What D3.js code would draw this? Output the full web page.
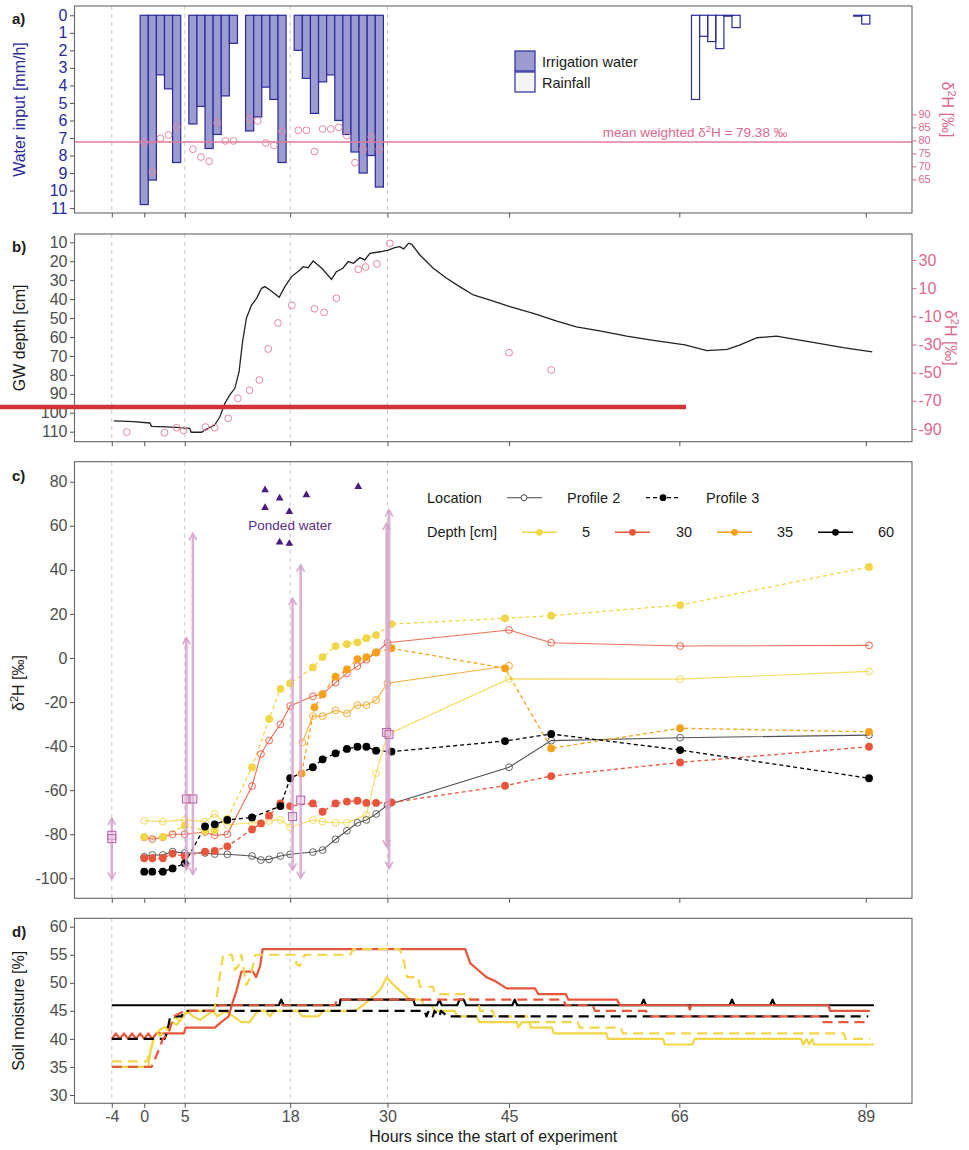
<!DOCTYPE html>
<html>
<head>
<meta charset="utf-8">
<script src="https://cdn.jsdelivr.net/npm/d3@7"></script>
<style>
  body { margin: 0; background: #fff; }
  svg { display: block; }
</style>
</head>
<body>
<svg id="chart" width="969" height="1150"></svg>
<script>
// ---------------- shared axis values ----------------
const hourTicks = [-4, 0, 5, 18, 30, 45, 66, 89];
const eventHours = [-4, 5, 18, 30];

// ---------------- a) water input ----------------
const irrigationHours = [0,1,2,3,4,6,7,8,9,10,11,13,14,15,16,17,19,20,21,22,23,24,25,26,27,28,29];
const irrigationRate  = [10.8,9.4,3.4,4.2,8.4,6.2,5.2,7.6,6.8,4.6,1.6,6.6,5.8,4.1,4.8,8.4,2.0,3.6,5.6,3.8,3.4,6.0,6.8,7.8,9.0,8.0,9.8];
const irrigationD2H   = [79.1,68.0,80.8,82.1,85.0,76.6,73.6,72.0,86.8,79.8,79.8,88.1,87.5,79.0,78.1,83.5,83.9,83.9,75.7,84.4,84.4,85.0,81.8,71.4,76.6,81.4,76.6];
const rainHours = [68,69,70,71,72,73,88,89];
const rainRate  = [4.8,1.2,1.5,1.9,0.05,0.7,0.05,0.5];
const meanWeightedD2H = 79.38;
const waterTicks = [0,1,2,3,4,5,6,7,8,9,10,11];
const waterD2HTicks = [65,70,75,80,85,90];

// ---------------- b) groundwater ----------------
const gwLevel = [
  [-3.75,104.3],[-1.37,104.7],[0.69,105.4],[0.9,107.2],[2.75,107.5],[4.4,107.9],[5.6,108.2],[5.8,110.3],
  [7.07,110.3],[7.7,108.6],[8.7,106.5],[9.33,102.1],[9.95,95.0],[10.56,90.6],[11.18,87.1],[11.7,78.3],
  [12.13,62.5],[12.6,50.1],[13.24,43.1],[13.86,39.6],[14.47,34.3],[14.88,33.4],[15.5,35.2],[16.65,39.0],
  [17.35,33.4],[18.18,28.1],[19.2,24.6],[19.6,22.9],[20.2,23.4],[20.84,19.9],[21.9,23.7],[23.1,29.6],
  [23.7,25.5],[24.5,23.7],[25.16,20.2],[25.8,21.1],[26.6,18.1],[27.2,19.3],[27.84,15.8],[29.1,15.0],
  [30.1,14.1],[30.9,12.8],[31.5,12.3],[32.0,13.5],[32.6,10.5],[33.0,11.1],[34.0,16.7],[35.65,23.7],
  [37.3,29.0],[38.9,33.4],[40.6,37.8],[43.05,41.0],[45.1,44.0],[48.0,47.5],[50.9,51.6],[53.3,54.6],
  [56.2,56.8],[59.5,59.5],[62.8,61.8],[66.7,64.2],[69.4,67.2],[71.9,66.5],[73.5,64.2],[75.6,60.4],
  [78.0,59.5],[80.1,61.1],[82.5,62.8],[86.2,65.6],[89.8,67.9]
];
const gwSampleHours = [-2.15,2.5,4.0,4.85,7.56,8.7,10.36,11.55,12.99,14.2,15.3,16.5,18.2,21.0,22.2,23.7,26.4,27.3,28.7,30.3,45.0,50.2];
const gwSampleD2H   = [-92.2,-92.6,-89.1,-91.0,-88.6,-89.1,-82.4,-68.2,-62.5,-55.2,-33.2,-14.7,-2.2,-4.6,-7.2,2.8,23.4,25.0,27.2,41.8,-35.8,-48.1];
const depthTicks = [10,20,30,40,50,60,70,80,90,100,110];
const gwD2HTicks = [30,10,-10,-30,-50,-70,-90];

// ---------------- c) soil water isotopes ----------------
const p2Depth5 = [[0,-73.9],[2.3,-74.3],[5,-73.5],[7.5,-74.3],[8.7,-70.8],[10.25,-75.8],[13.3,-74.8],[15.4,-74],[16.8,-73.5],[18,-76.9],[20.8,-73.5],[22,-74.3],[23.6,-74.8],[25,-74.8],[27.4,-71.3],[28.6,-52.3],[30,-34.7],[45,-9.5],[66.1,-9.6],[89.4,-6.1]];
const p3Depth5 = [[0,-81.2],[2.3,-81.2],[5,-76],[7.5,-78.5],[8.7,-78.1],[10.25,-73],[13.3,-49.6],[15.4,-27.7],[16.8,-14],[18,-11.5],[20.8,-4.3],[22,0.4],[23.6,5.4],[25,6.3],[26.3,7.1],[27.4,9],[28.6,10.4],[30.5,15.4],[44.5,18],[50.2,19.2],[66.1,24],[89.4,41.3]];
const p2Depth30 = [[0,-81.4],[1,-82.2],[2.3,-81.4],[3.5,-80],[5,-80],[7.5,-79],[8.7,-80.5],[10.25,-80],[13.3,-58.1],[14.4,-43.6],[15.4,-37.5],[16.8,-30.1],[18,-21.8],[20.8,-17.4],[22,-16.4],[23.6,-11.2],[25,-7],[26.3,-3.7],[27.4,-0.8],[28.6,2.5],[30,6.9],[45,12.7],[50.2,6.9],[66.1,5.4],[89.4,5.7]];
const p3Depth30 = [[0,-90.9],[1,-90.9],[2.3,-90.9],[3.5,-88.8],[5,-90],[7.5,-87.9],[8.7,-87.6],[10.25,-85.5],[13.3,-77.8],[14.4,-75.1],[15.4,-71.6],[16.8,-66],[18,-67.2],[20.8,-66],[22,-69.8],[23.6,-66],[25,-65.2],[26.3,-64.8],[27.4,-65.8],[28.6,-65.8],[30.5,-65.6],[44.5,-58],[50.2,-53.6],[66.1,-47.4],[89.4,-40.3]];
const p2Depth35 = [[19.5,-38.3],[20.8,-26.4],[22,-26.4],[23.6,-23.8],[25,-25.2],[26.3,-21.4],[27.4,-21.4],[28.6,-19.1],[30,-11.5],[45,-3.5]];
const p3Depth35 = [[19.4,-52.4],[21,-22.4],[22,-16.5],[23.6,-8.5],[25,-5.2],[26.3,-0.5],[27.4,0.4],[28.6,2.5],[30.5,4.4],[44.5,-4.7],[50.2,-41],[66.1,-31.9],[89.4,-33.5]];
const p2Depth60 = [[0,-90.2],[1,-89.4],[2.3,-89.4],[3.5,-87.9],[5,-88.5],[7.5,-88.5],[8.7,-89],[10.25,-89.1],[13.3,-89.9],[14.4,-91.7],[15.4,-91.4],[16.8,-89.9],[18,-89.1],[20.8,-88.1],[22,-87.2],[23.6,-82.3],[25,-78.4],[26.3,-74.8],[27.4,-73.5],[28.6,-70.8],[30,-66.7],[45,-49.6],[50.2,-37.5],[66.1,-36.2],[89.4,-35]];
const p3Depth60 = [[0,-97],[1,-97],[2.3,-97],[3.5,-95.5],[5,-93.2],[7.5,-76.5],[8.7,-75.5],[10.25,-73.5],[13.3,-72.4],[16.8,-67.2],[18,-54.6],[20.8,-49.6],[22,-46],[23.6,-43.3],[25,-41.3],[26.3,-40.3],[27.4,-40.3],[28.6,-42.1],[30.5,-42.5],[44.5,-37.7],[50.2,-34.5],[66.1,-41.8],[89.4,-54.6]];

// input water samples: range (arrows) and mean (squares)
const inputRangeHours = [-4, 5.2, 6.0, 18.3, 19.3, 29.9, 30.2];
const inputRangeMin   = [-100.3, -96, -98.2, -96.2, -100, -85.7, -95.5];
const inputRangeMax   = [-72.8, 9.2, 56.5, 27, 42.2, 61.1, 67.1];
const inputMeanHours  = [-4, -4, 5.2, 6.0, 18.3, 19.3, 29.9, 30.2];
const inputMeanD2H    = [-80.5, -82, -64, -64, -72, -64.5, -33.8, -34.7];

const pondedHours = [14.9, 16.7, 20.0, 14.9, 17.9, 16.7, 17.9, 26.4];
const pondedD2H   = [76.2, 72.5, 74.0, 68.2, 66.4, 52.5, 51.9, 77.7];
const isoTicks = [80,60,40,20,0,-20,-40,-60,-80,-100];

// ---------------- d) soil moisture ----------------
const smP2Depth60 = [[-4,46],[16.6,46],[16.9,47],[17.2,46],[24.1,46],[24.2,47],[33.2,47],[33.4,46],[36.1,46],[36.4,47],[36.7,46],[38.6,46],[38.9,47],[39.4,47],[39.7,46],[45.4,46],[45.7,47],[46,46],[61.3,46],[61.6,47],[61.9,46],[72.2,46],[72.5,47],[72.8,46],[77.2,46],[77.5,47],[77.8,46],[90,46]];
const smP3Depth60 = [[-4,40],[2.5,40],[2.8,41],[3.2,44],[4.6,44],[4.9,45],[34.6,45],[34.8,44],[35.1,45],[35.6,44],[35.8,45],[36.4,44],[36.6,45],[37.4,44],[89.3,44]];
const smP2Depth30 = [[-4,40],[-3.5,41],[-3,40],[-2.5,41],[-2,40],[-1.5,41],[-1,40],[-0.5,41],[0,40],[0.5,41],[1,40],[1.5,41],[4.9,41],[5.1,42],[8.7,42],[9.5,43],[10.4,44],[10.8,46],[11.4,48.7],[12,52],[13.4,52],[13.8,51],[14.3,53],[14.6,56],[39.6,56],[40.2,53.5],[41,52.5],[42.2,51],[43.3,50.3],[44.7,49],[48.2,49],[48.6,48],[52,48],[52.3,47],[58.3,47],[58.7,46],[67.1,46],[67.3,45.2],[67.5,46],[84.4,46],[84.6,45],[89.5,45]];
const smP3Depth30 = [[-4,35],[0.9,35],[1.5,37],[2.3,40],[3,41],[3.6,44],[5,45],[8.9,45],[9.2,46],[23.5,46],[23.8,47],[51.7,47],[52,46],[55.3,46],[55.6,45],[61.9,45],[62.2,44],[83.2,44],[83.5,43],[89.5,43]];
const smP2Depth5 = [[-4,35],[0.5,35],[0.8,38],[1.2,40.4],[1.9,41.6],[2.5,42.1],[3,42],[3.5,43],[4,42.5],[4.8,44],[5.3,45],[6,44],[6.9,43.4],[7.5,44],[8.5,45],[9,44],[10,45],[11,44],[12,43],[13,43],[13.5,44],[14,45],[15,45],[15.5,44],[16,45],[19,45],[19.5,44],[21.5,44],[22,45],[26,45],[27,46],[27.8,47],[28.6,48],[29.2,49],[29.9,51],[30.5,50],[31.2,49],[32,48],[32.8,47],[34.2,47],[34.5,46],[35.5,46],[35.8,45],[38.3,45],[38.6,44],[41,44],[41.3,43],[46,43],[46.1,42],[46.6,43],[47.5,43],[47.7,42],[50.3,42],[50.5,41],[57,41],[57.2,40],[64,40],[64.2,39],[67.6,39],[67.9,40],[81,40],[81.3,39],[81.7,40],[82,39],[82.4,40],[82.6,39],[90,39]];
const smP3Depth5 = [[-4,36],[0.3,36],[0.8,38],[1.2,40],[1.6,41],[2,40.5],[2.5,42],[3,41.5],[3.8,44],[4.5,43],[5,44.5],[6,45],[8.6,45],[8.9,47],[9.4,52],[9.75,55],[10.8,55],[11.2,52.3],[11.6,53],[12.0,55],[12.3,52],[12.6,49.6],[13.1,51],[13.7,55],[18.6,55],[18.8,53.3],[19.2,53],[19.8,55],[25.4,55],[25.8,56],[31.5,56],[32,54],[32.4,51],[33.8,51],[34,49.3],[35.6,49.3],[35.9,48],[39.8,48],[40.2,47],[41.2,47],[41.4,45],[43,45],[43.2,44],[47.3,44],[47.5,43],[53.5,43],[53.7,42],[58.8,42],[59,41],[86.3,41],[86.5,40],[89.5,40]];
const moistureTicks = [30,35,40,45,50,55,60];

// ---------------- styling ----------------
const FONT = "'Liberation Sans', Arial, Helvetica, sans-serif";
const AXIS_GREY = "#4d4d4d";
const FRAME = "#666666";
const NAVY = "#2a2a9c";
const IRR_FILL = "#9c9cd0";
const PINK_TEXT = "#dc6890";
const PINK_LINE = "#e27a97";
const PINK_DOT = "#e6879f";
const COL = { 5: "#f3d648", 30: "#e8553b", 35: "#f9a11b", 60: "#000000" };

const svg = d3.select("#chart").attr("font-family", FONT);

const x = d3.scaleLinear().domain([-8.6, 94.7]).range([74.5, 912]);
const P = {
  a: { top: 6, bottom: 213 },
  b: { top: 234, bottom: 441.7 },
  c: { top: 461.7, bottom: 898.3 },
  d: { top: 918.3, bottom: 1103.3 }
};
const yA  = d3.scaleLinear().domain([-0.53, 11.28]).range([P.a.top, P.a.bottom]);
const yAr = d3.scaleLinear().domain([52.07, 131.69]).range([P.a.bottom, P.a.top]);
const yB  = d3.scaleLinear().domain([5.62, 115.28]).range([P.b.top, P.b.bottom]);
const yBr = d3.scaleLinear().domain([-99.02, 48.47]).range([P.b.bottom, P.b.top]);
const yC  = d3.scaleLinear().domain([-109.08, 89.08]).range([P.c.bottom, P.c.top]);
const yD  = d3.scaleLinear().domain([28.52, 61.5]).range([P.d.bottom, P.d.top]);

const defs = svg.append("defs");
Object.entries(P).forEach(([k, p]) => {
  defs.append("clipPath").attr("id", "clip-" + k)
    .append("rect").attr("x", x.range()[0]).attr("y", p.top)
    .attr("width", x.range()[1] - x.range()[0]).attr("height", p.bottom - p.top);
});

function panelBase(key) {
  const p = P[key];
  svg.append("g").selectAll("line").data(eventHours).join("line")
    .attr("x1", d => x(d)).attr("x2", d => x(d))
    .attr("y1", p.top).attr("y2", p.bottom)
    .attr("stroke", "#c8c8c8").attr("stroke-width", 1).attr("stroke-dasharray", "4,4");
  return svg.append("g").attr("clip-path", `url(#clip-${key})`);
}

function panelFrame(key) {
  const p = P[key];
  svg.append("rect").attr("x", x.range()[0]).attr("y", p.top)
    .attr("width", x.range()[1] - x.range()[0]).attr("height", p.bottom - p.top)
    .attr("fill", "none").attr("stroke", FRAME).attr("stroke-width", 1.1);
}

function styleAxis(g, color, tickColor, size) {
  g.attr("font-family", FONT).attr("font-size", size || 16);
  g.select(".domain").remove();
  g.selectAll(".tick line").attr("stroke", tickColor || "#555");
  g.selectAll(".tick text").attr("fill", color);
}

function bottomAxis(key, withLabels) {
  const ax = d3.axisBottom(x).tickValues(hourTicks).tickSize(4.5).tickPadding(3)
    .tickFormat(withLabels ? (d => String(d)) : "");
  const g = svg.append("g").attr("transform", `translate(0,${P[key].bottom})`).call(ax);
  styleAxis(g, AXIS_GREY);
}

function leftAxis(scale, ticks, color, tickColor) {
  const ax = d3.axisLeft(scale).tickValues(ticks).tickSize(4.5).tickPadding(2.5).tickFormat(d => String(d));
  const g = svg.append("g").attr("transform", `translate(${x.range()[0]},0)`).call(ax);
  styleAxis(g, color, tickColor);
}

function rightAxis(scale, ticks, color, size) {
  const ax = d3.axisRight(scale).tickValues(ticks).tickSize(4.5).tickPadding(2).tickFormat(d => String(d));
  const g = svg.append("g").attr("transform", `translate(${x.range()[1]},0)`).call(ax);
  styleAxis(g, color, color, size);
}

function yTitle(xPos, yPos, parts, color, rot) {
  const t = svg.append("text")
    .attr("transform", `translate(${xPos},${yPos}) rotate(${rot})`)
    .attr("text-anchor", "middle").attr("font-size", 16).attr("fill", color);
  parts.forEach(([txt, sup]) => {
    if (sup) {
      t.append("tspan").attr("font-size", 11).attr("dy", -6).text(txt);
    } else {
      t.append("tspan").attr("dy", t.selectAll("tspan").size() ? 6 : 0).text(txt);
    }
  });
  return t;
}

function panelLetter(label, yPos) {
  svg.append("text").attr("x", 12).attr("y", yPos).attr("font-size", 15)
    .attr("font-weight", "bold").attr("fill", "#1a1a1a").text(label);
}

const d2hTitle = [["δ", false], ["2", true], ["H [‰]", false]];

// ================= panel a =================
{
  const g = panelBase("a");
  const irr = irrigationHours.map((h, i) => ({ h, v: irrigationRate[i], d: irrigationD2H[i] }));
  const rain = rainHours.map((h, i) => ({ h, v: rainRate[i] }));

  g.selectAll("rect.irr").data(irr).join("rect")
    .attr("x", d => x(d.h - 0.5)).attr("width", d => x(d.h + 0.5) - x(d.h - 0.5))
    .attr("y", yA(0)).attr("height", d => yA(d.v) - yA(0))
    .attr("fill", IRR_FILL).attr("stroke", NAVY).attr("stroke-width", 1.2);

  g.selectAll("rect.rain").data(rain).join("rect")
    .attr("x", d => x(d.h - 0.5)).attr("width", d => x(d.h + 0.5) - x(d.h - 0.5))
    .attr("y", yA(0)).attr("height", d => Math.max(0.6, yA(d.v) - yA(0)))
    .attr("fill", "none").attr("stroke", NAVY).attr("stroke-width", 1.2);

  g.append("line").attr("x1", x.range()[0]).attr("x2", x.range()[1])
    .attr("y1", yAr(meanWeightedD2H)).attr("y2", yAr(meanWeightedD2H))
    .attr("stroke", PINK_LINE).attr("stroke-width", 1.3);

  g.selectAll("circle").data(irr).join("circle")
    .attr("cx", d => x(d.h)).attr("cy", d => yAr(d.d)).attr("r", 3.4)
    .attr("fill", "none").attr("stroke", PINK_DOT).attr("stroke-width", 1);

  const lbl = svg.append("text").attr("x", 695).attr("y", yAr(meanWeightedD2H) - 5)
    .attr("text-anchor", "middle").attr("font-size", 13.5).attr("fill", PINK_TEXT);
  lbl.append("tspan").text("mean weighted δ");
  lbl.append("tspan").attr("font-size", 9.5).attr("dy", -5).text("2");
  lbl.append("tspan").attr("dy", 5).text(`H = ${meanWeightedD2H.toFixed(2)} ‰`);

  // legend
  const lg = svg.append("g").attr("font-size", 14.5).attr("fill", "#1a1a1a");
  [["Irrigation water", IRR_FILL], ["Rainfall", "#f4f4f4"]].forEach(([name, fill], i) => {
    lg.append("rect").attr("x", 515).attr("y", 51 + i * 21).attr("width", 20).attr("height", 20)
      .attr("fill", fill).attr("stroke", NAVY).attr("stroke-width", 1.2);
    lg.append("text").attr("x", 542).attr("y", 61.5 + i * 21).attr("dy", "0.35em").text(name);
  });

  panelFrame("a");
  bottomAxis("a", false);
  leftAxis(yA, waterTicks, NAVY, "#555");
  rightAxis(yAr, waterD2HTicks, PINK_TEXT, 11);
  yTitle(19, (P.a.top + P.a.bottom) / 2, [["Water input [mm/h]", false]], NAVY, -90);
  yTitle(948, (P.a.top + P.a.bottom) / 2, d2hTitle, PINK_TEXT, 90);
  panelLetter("a)", 24);
}

// ================= panel b =================
{
  const g = panelBase("b");
  g.append("path").datum(gwLevel)
    .attr("d", d3.line().x(d => x(d[0])).y(d => yB(d[1])))
    .attr("fill", "none").attr("stroke", "#222").attr("stroke-width", 1.3);

  g.selectAll("circle").data(gwSampleHours.map((h, i) => [h, gwSampleD2H[i]])).join("circle")
    .attr("cx", d => x(d[0])).attr("cy", d => yBr(d[1])).attr("r", 3.4)
    .attr("fill", "none").attr("stroke", PINK_DOT).attr("stroke-width", 1);

  panelFrame("b");
  bottomAxis("b", false);
  leftAxis(yB, depthTicks, AXIS_GREY);
  rightAxis(yBr, gwD2HTicks, PINK_TEXT);
  yTitle(19, (P.b.top + P.b.bottom) / 2, [["GW depth [cm]", false]], "#1a1a1a", -90);
  yTitle(951, (P.b.top + P.b.bottom) / 2, d2hTitle, PINK_TEXT, 90);
  panelLetter("b)", 252);

  // highlight rule
  svg.append("line").attr("x1", 0).attr("x2", 686).attr("y1", 407).attr("y2", 407)
    .attr("stroke", "#d13438").attr("stroke-width", 4.5);
}

// ================= panel c =================
{
  const g = panelBase("c");
  const line = d3.line().x(d => x(d[0])).y(d => yC(d[1]));

  const profile2 = [[p2Depth5, 5], [p2Depth30, 30], [p2Depth35, 35], [p2Depth60, 60]];
  const profile3 = [[p3Depth5, 5], [p3Depth30, 30], [p3Depth35, 35], [p3Depth60, 60]];

  profile2.forEach(([data, depth]) => {
    g.append("path").datum(data).attr("d", line).attr("fill", "none")
      .attr("stroke", depth === 60 ? "#333" : COL[depth]).attr("stroke-width", 1.1)
      .attr("stroke-opacity", 0.85);
  });
  profile3.forEach(([data, depth]) => {
    g.append("path").datum(data).attr("d", line).attr("fill", "none")
      .attr("stroke", COL[depth]).attr("stroke-width", 1.3).attr("stroke-dasharray", "4,3");
  });
  profile2.forEach(([data, depth]) => {
    g.append("g").selectAll("circle").data(data).join("circle")
      .attr("cx", d => x(d[0])).attr("cy", d => yC(d[1])).attr("r", 3.4)
      .attr("fill", "none").attr("stroke", depth === 60 ? "#555" : COL[depth])
      .attr("stroke-width", 1).attr("stroke-opacity", 0.9);
  });
  profile3.forEach(([data, depth]) => {
    g.append("g").selectAll("circle").data(data).join("circle")
      .attr("cx", d => x(d[0])).attr("cy", d => yC(d[1])).attr("r", 3.9)
      .attr("fill", COL[depth]);
  });

  // input water ranges with double arrows
  const ARROW = "#d6a3cc";
  inputRangeHours.forEach((h, i) => {
    const cx = x(h), y1 = yC(inputRangeMax[i]), y2 = yC(inputRangeMin[i]);
    const a = g.append("g").attr("stroke", ARROW).attr("fill", "none")
      .attr("stroke-width", 2.6).attr("stroke-opacity", 0.85).attr("stroke-linecap", "round");
    a.append("line").attr("x1", cx).attr("x2", cx).attr("y1", y1 + 1).attr("y2", y2 - 1);
    a.append("path").attr("d", `M${cx - 3.5},${y1 + 6}L${cx},${y1}L${cx + 3.5},${y1 + 6}`).attr("stroke-width", 1.8);
    a.append("path").attr("d", `M${cx - 3.5},${y2 - 6}L${cx},${y2}L${cx + 3.5},${y2 - 6}`).attr("stroke-width", 1.8);
  });
  g.append("g").selectAll("rect").data(inputMeanHours.map((h, i) => [h, inputMeanD2H[i]])).join("rect")
    .attr("x", d => x(d[0]) - 4).attr("y", d => yC(d[1]) - 4).attr("width", 8).attr("height", 8)
    .attr("fill", "rgba(236,200,226,0.5)").attr("stroke", "#b463a6").attr("stroke-width", 1);

  // ponded water samples
  g.append("g").selectAll("path").data(pondedHours.map((h, i) => [h, pondedD2H[i]])).join("path")
    .attr("transform", d => `translate(${x(d[0])},${yC(d[1])})`)
    .attr("d", d3.symbol(d3.symbolTriangle, 26)).attr("fill", "#4b1b7f");
  svg.append("text").attr("x", 290).attr("y", 530).attr("text-anchor", "middle")
    .attr("font-size", 13.5).attr("fill", "#5a2b8c").text("Ponded water");

  // legend
  const lg = svg.append("g").attr("font-size", 14.5).attr("fill", "#1a1a1a");
  const r1 = 497.7, r2 = 532.3;
  lg.append("text").attr("x", 427).attr("y", r1).attr("dy", "0.35em").text("Location");
  lg.append("line").attr("x1", 507).attr("x2", 542).attr("y1", r1).attr("y2", r1).attr("stroke", "#444").attr("stroke-width", 1.1);
  lg.append("circle").attr("cx", 524).attr("cy", r1).attr("r", 3).attr("fill", "#fff").attr("stroke", "#444");
  lg.append("text").attr("x", 567).attr("y", r1).attr("dy", "0.35em").text("Profile 2");
  lg.append("line").attr("x1", 646).attr("x2", 678).attr("y1", r1).attr("y2", r1).attr("stroke", "#000").attr("stroke-width", 1.3).attr("stroke-dasharray", "4,3");
  lg.append("circle").attr("cx", 663).attr("cy", r1).attr("r", 3.4).attr("fill", "#000");
  lg.append("text").attr("x", 706).attr("y", r1).attr("dy", "0.35em").text("Profile 3");

  lg.append("text").attr("x", 427).attr("y", r2).attr("dy", "0.35em").text("Depth [cm]");
  const depthKeys = [[5, 522, 582], [30, 615, 676], [35, 717, 777], [60, 818, 878]];
  depthKeys.forEach(([depth, lx, tx]) => {
    lg.append("line").attr("x1", lx).attr("x2", lx + 35).attr("y1", r2).attr("y2", r2)
      .attr("stroke", COL[depth]).attr("stroke-width", 1.5);
    lg.append("circle").attr("cx", lx + 17.5).attr("cy", r2).attr("r", 3.4).attr("fill", COL[depth]);
    lg.append("text").attr("x", tx).attr("y", r2).attr("dy", "0.35em").text(String(depth));
  });

  panelFrame("c");
  bottomAxis("c", false);
  leftAxis(yC, isoTicks, AXIS_GREY);
  yTitle(18, (P.c.top + P.c.bottom) / 2 + 3, d2hTitle, "#1a1a1a", -90);
  panelLetter("c)", 481);
}

// ================= panel d =================
{
  const g = panelBase("d");
  const line = d3.line().x(d => x(d[0])).y(d => yD(d[1]));
  const series = [
    [smP3Depth5, 5, true], [smP2Depth5, 5, false],
    [smP3Depth60, 60, true], [smP2Depth60, 60, false],
    [smP3Depth30, 30, true], [smP2Depth30, 30, false]
  ];
  // solid lines first, dashed on top
  series.filter(s => !s[2]).concat(series.filter(s => s[2])).forEach(([data, depth, dashed]) => {
    g.append("path").datum(data).attr("d", line).attr("fill", "none")
      .attr("stroke", COL[depth]).attr("stroke-width", 2.2)
      .attr("stroke-linejoin", "round")
      .attr("stroke-dasharray", dashed ? "10,6" : null);
  });

  panelFrame("d");
  bottomAxis("d", true);
  leftAxis(yD, moistureTicks, AXIS_GREY);
  yTitle(18, (P.d.top + P.d.bottom) / 2, [["Soil moisture [%]", false]], "#1a1a1a", -90);
  panelLetter("d)", 937);

  svg.append("text").attr("x", (x.range()[0] + x.range()[1]) / 2).attr("y", 1142)
    .attr("text-anchor", "middle").attr("font-size", 16).attr("fill", "#1a1a1a")
    .text("Hours since the start of experiment");
}
</script>
</body>
</html>
